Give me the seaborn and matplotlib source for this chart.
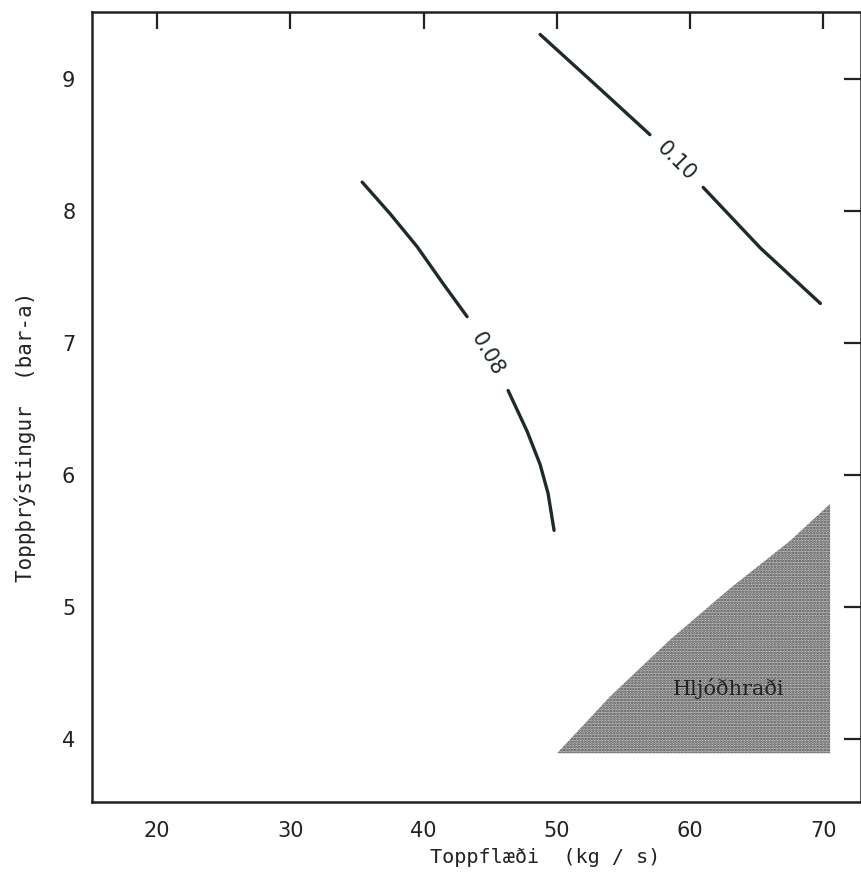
import numpy as np
import pandas as pd
import matplotlib
matplotlib.use("Agg")
import matplotlib.pyplot as plt
import seaborn as sns

# Contour 0.08 (two segments separated by label gap)
c08_x = [35.39, 37.49, 39.52, 41.47, 43.27, 46.35, 47.78, 48.75, 49.35, 49.80]
c08_y = [8.22, 7.98, 7.73, 7.45, 7.20, 6.64, 6.33, 6.08, 5.86, 5.58]
c08_seg = [0, 0, 0, 0, 0, 1, 1, 1, 1, 1]
# Contour 0.10
c10_x = [48.75, 53.0, 57.0, 61.0, 65.3, 69.8]
c10_y = [9.34, 8.95, 8.58, 8.18, 7.72, 7.30]
c10_seg = [0, 0, 0, 1, 1, 1]
# Sonic (choked) region
sonic_x = [50.03, 54.01, 58.51, 63.02, 67.52, 70.53, 70.53]
sonic_y = [3.89, 4.32, 4.75, 5.14, 5.50, 5.78, 3.89]

xticks = [20, 30, 40, 50, 60, 70]
yticks = [4, 5, 6, 7, 8, 9]

sns.set_theme(style="white")
plt.rcParams['font.family'] = ['DejaVu Sans']
plt.rcParams['hatch.linewidth'] = 1.3

fig = plt.figure(figsize=(8.61, 8.75), dpi=100)
ax = fig.add_axes([92/861, 1 - 802/875, 1 - 92/861, (802 - 12)/875])

df08 = pd.DataFrame({"x": c08_x, "y": c08_y, "seg": c08_seg})
df10 = pd.DataFrame({"x": c10_x, "y": c10_y, "seg": c10_seg})
sns.lineplot(data=df08, x="x", y="y", units="seg", estimator=None, sort=False,
             color="#1e2b26", lw=2.4, ax=ax)
sns.lineplot(data=df10, x="x", y="y", units="seg", estimator=None, sort=False,
             color="#1e2b26", lw=2.4, ax=ax)

ax.fill(sonic_x, sonic_y, facecolor="#c4c4c4", edgecolor="#4a4a4a",
        hatch="......", lw=0)

ax.text(44.8, 6.92, "0.08", rotation=-60, ha="center", va="center",
        fontsize=15, color="#1e2b26", rotation_mode="anchor")
ax.text(58.96, 8.38, "0.10", rotation=-45, ha="center", va="center",
        fontsize=15, color="#1e2b26", rotation_mode="anchor")
ax.text(62.9, 4.38, "Hljóðhraði", ha="center", va="center",
        fontsize=15, family="DejaVu Serif", color="#222222")

ax.set_xlim(15.1, 72.85)
ax.set_ylim(3.52, 9.51)
ax.set_xticks(xticks)
ax.set_yticks(yticks)
ax.tick_params(direction="in", length=12, width=1.6, top=True, right=True,
               labelsize=15, colors="#222222", pad=14)
ax.tick_params(axis="y", pad=12)
for s in ax.spines.values():
    s.set_color("#222222")
    s.set_linewidth(1.8)

ax.set_xlabel("Toppflæði  (kg / s)", fontsize=14.5, color="#222222",
              family="DejaVu Sans Mono")
ax.set_ylabel("Toppþrýstingur  (bar-a)", fontsize=15, color="#222222",
              family="DejaVu Sans Mono")
ax.xaxis.set_label_coords(0.589, -0.058)
ax.yaxis.set_label_coords(-0.073, 0.462)

fig.savefig("out.png", dpi=100)
